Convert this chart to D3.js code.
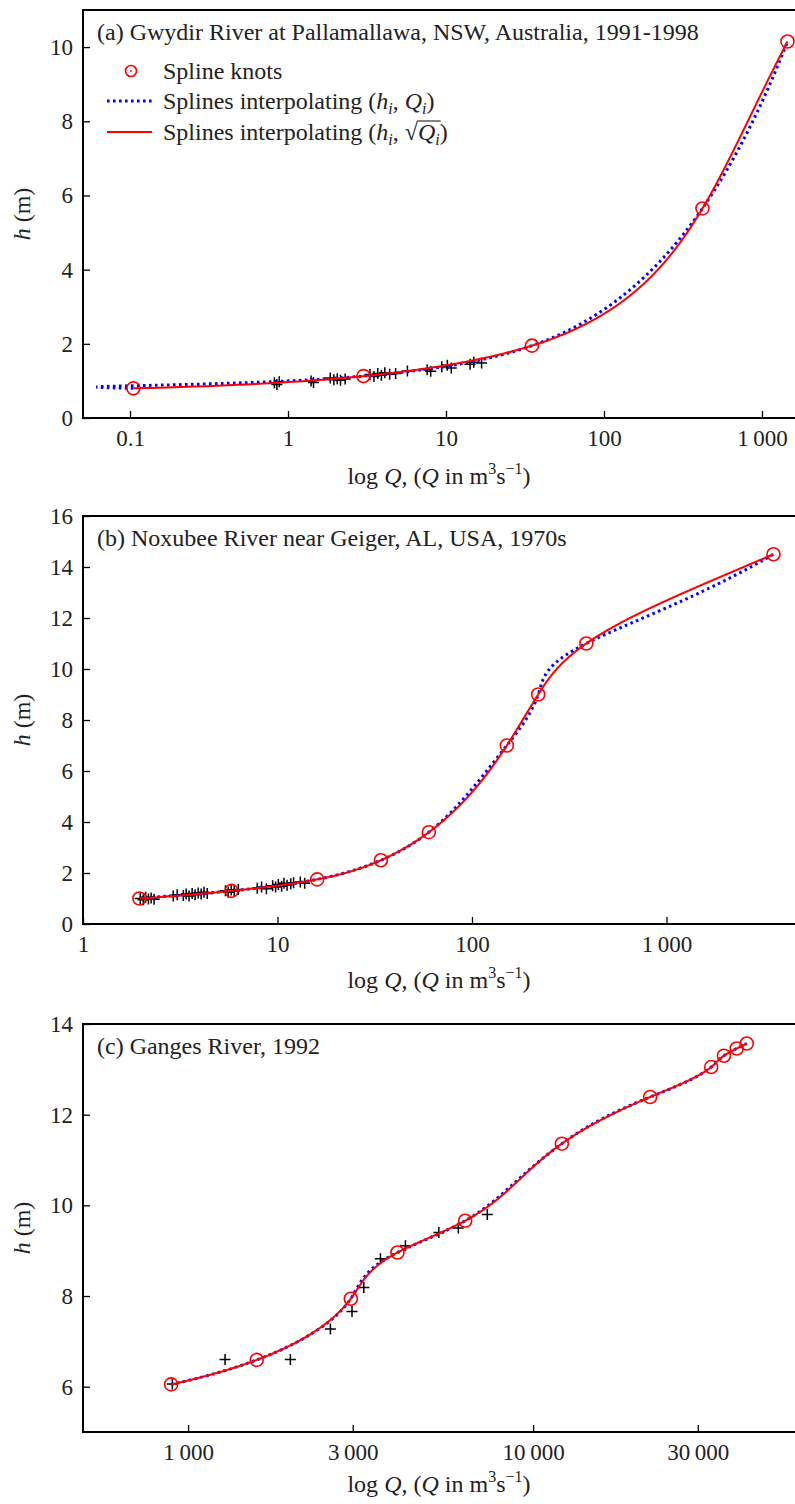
<!DOCTYPE html>
<html><head><meta charset="utf-8">
<script src="https://cdn.jsdelivr.net/npm/d3@7"></script>
<style>
body{margin:0;background:#fff}
svg{display:block}
text{font-family:"Liberation Serif","Times New Roman",serif;fill:#222}
</style>
</head><body>
<script>
// ---------- DATA ----------
// Panel (a) Gwydir River
const aKnotQ = [0.105, 3.0, 35, 420, 1450];
const aKnotH = [0.80, 1.13, 1.95, 5.65, 10.15];
const aObsQ = [0.82,0.85,0.88,1.40,1.45,1.85,1.95,2.05,2.15,2.3,3.3,3.5,3.7,3.9,4.1,4.4,4.8,5.7,7.6,8.0,9.4,10.2,10.8,14.2,15.0,16.8];
const aObsH = [0.95,0.90,0.98,1.00,0.96,1.08,1.03,1.06,1.02,1.05,1.17,1.12,1.20,1.15,1.22,1.18,1.20,1.27,1.30,1.26,1.38,1.42,1.35,1.45,1.50,1.48];
// Panel (b) Noxubee River
const bKnotQ = [1.95, 5.8, 16, 34, 60, 151, 219, 387, 3550];
const bKnotH = [1.0, 1.3, 1.75, 2.5, 3.6, 7.0, 9.0, 11.0, 14.5];
const bObsQ = [1.97,2.04,2.10,2.17,2.24,2.32,2.91,3.05,3.28,3.39,3.51,3.64,3.77,3.91,4.05,4.19,4.35,5.40,5.58,5.78,5.99,6.29,7.87,8.28,8.77,9.44,9.78,10.1,10.5,10.8,11.2,11.7,12.1,13.1,13.8];
const bObsH = [1.00,0.95,1.05,0.98,1.02,0.97,1.10,1.15,1.12,1.18,1.10,1.20,1.15,1.22,1.18,1.25,1.20,1.30,1.25,1.33,1.28,1.35,1.40,1.45,1.38,1.50,1.45,1.55,1.48,1.60,1.52,1.58,1.62,1.65,1.60];
// Panel (c) Ganges River
const cKnotQ = [893, 1581, 2962, 4044, 6355, 12110, 21830, 32800, 35720, 38900, 41600];
const cKnotH = [6.05, 6.59, 7.94, 8.96, 9.66, 11.36, 12.39, 13.05, 13.30, 13.46, 13.57];
const cObsQ = [900, 1280, 1979, 2585, 2986, 3231, 3610, 4265, 5330, 6070, 7365];
const cObsH = [6.06, 6.60, 6.60, 7.27, 7.66, 8.19, 8.82, 9.11, 9.40, 9.50, 9.80];

const titles = ["(a) Gwydir River at Pallamallawa, NSW, Australia, 1991-1998",
                "(b) Noxubee River near Geiger, AL, USA, 1970s",
                "(c) Ganges River, 1992"];
const aTicksX = [0.1, 1, 10, 100, 1000];
const aTickLabels = ["0.1", "1", "10", "100", "1\u2009000"];
const bTicksX = [1, 10, 100, 1000];
const bTickLabels = ["1", "10", "100", "1\u2009000"];
const cTicksX = [1000, 3000, 10000, 30000];
const cTickLabels = ["1\u2009000", "3\u2009000", "10\u2009000", "30\u2009000"];
const aTicksY = [0, 2, 4, 6, 8, 10];
const bTicksY = [0, 2, 4, 6, 8, 10, 12, 14, 16];
const cTicksY = [6, 8, 10, 12, 14];
const legendLabels = ["Spline knots", "Splines interpolating", "Splines interpolating"];

// ---------- SPLINE (not-a-knot cubic, as in the figure's method) ----------
function spline(xs, ys) {
  const n = xs.length, hh = [];
  for (let i = 0; i < n - 1; i++) hh.push(xs[i + 1] - xs[i]);
  const A = Array.from({length: n}, () => new Array(n).fill(0)), b = new Array(n).fill(0);
  A[0][0] = hh[1]; A[0][1] = -(hh[0] + hh[1]); A[0][2] = hh[0];
  for (let i = 1; i < n - 1; i++) {
    A[i][i - 1] = hh[i - 1]; A[i][i] = 2 * (hh[i - 1] + hh[i]); A[i][i + 1] = hh[i];
    b[i] = 6 * ((ys[i + 1] - ys[i]) / hh[i] - (ys[i] - ys[i - 1]) / hh[i - 1]);
  }
  A[n - 1][n - 3] = hh[n - 2]; A[n - 1][n - 2] = -(hh[n - 3] + hh[n - 2]); A[n - 1][n - 1] = hh[n - 3];
  for (let c = 0; c < n; c++) {
    let p = c;
    for (let r = c + 1; r < n; r++) if (Math.abs(A[r][c]) > Math.abs(A[p][c])) p = r;
    [A[c], A[p]] = [A[p], A[c]]; [b[c], b[p]] = [b[p], b[c]];
    for (let r = c + 1; r < n; r++) {
      const f = A[r][c] / A[c][c];
      for (let k = c; k < n; k++) A[r][k] -= f * A[c][k];
      b[r] -= f * b[c];
    }
  }
  const M = new Array(n).fill(0);
  for (let r = n - 1; r >= 0; r--) {
    let s = b[r];
    for (let k = r + 1; k < n; k++) s -= A[r][k] * M[k];
    M[r] = s / A[r][r];
  }
  return function (x) {
    let i = 0;
    while (i < n - 2 && x > xs[i + 1]) i++;
    const h = hh[i], a = xs[i + 1] - x, d = x - xs[i];
    return M[i] * a * a * a / (6 * h) + M[i + 1] * d * d * d / (6 * h)
      + (ys[i] / h - M[i] * h / 6) * a + (ys[i + 1] / h - M[i + 1] * h / 6) * d;
  };
}

// ---------- DRAW ----------
const W = 795, H = 1504, FS = 24, TFS = 23, SFS = 16, L = 83, R = 795;
const svg = d3.select("body").append("svg").attr("width", W).attr("height", H);

const panels = [
  {top: 10, bottom: 418, xd: [0.0504, 1618], yd: [0, 11], kq: aKnotQ, kh: aKnotH, oq: aObsQ, oh: aObsH,
   xt: aTicksX, xl: aTickLabels, yt: aTicksY, title: titles[0], legend: true, xlab: 66},
  {top: 516, bottom: 924, xd: [1, 4580], yd: [0, 16], kq: bKnotQ, kh: bKnotH, oq: bObsQ, oh: bObsH,
   xt: bTicksX, xl: bTickLabels, yt: bTicksY, title: titles[1], xlab: 64},
  {top: 1024, bottom: 1432, xd: [496, 57400], yd: [5, 14], kq: cKnotQ, kh: cKnotH, oq: cObsQ, oh: cObsH,
   xt: cTicksX, xl: cTickLabels, yt: cTicksY, title: titles[2], xlab: 60}
];

panels.forEach((p, pi) => {
  const x = d3.scaleLog().domain(p.xd).range([L, R]);
  const y = d3.scaleLinear().domain(p.yd).range([p.bottom, p.top]);
  const g = svg.append("g");
  const clipId = "clip" + pi;
  svg.append("clipPath").attr("id", clipId).append("rect")
    .attr("x", L).attr("y", p.top).attr("width", R - L).attr("height", p.bottom - p.top);

  // axes
  const ax = g.append("g").attr("transform", `translate(0,${p.bottom})`)
    .call(d3.axisBottom(x).tickValues(p.xt).tickFormat((d, i) => p.xl[i]).tickSizeInner(-7).tickSizeOuter(0).tickPadding(12));
  const ay = g.append("g").attr("transform", `translate(${L},0)`)
    .call(d3.axisLeft(y).tickValues(p.yt).tickSizeInner(-7).tickSizeOuter(0).tickPadding(10));
  [ax, ay].forEach(a => {
    a.select(".domain").remove();
    a.selectAll(".tick line").attr("stroke", "#000").attr("stroke-width", 1.3);
    a.selectAll(".tick text").attr("font-size", TFS).attr("font-family", "Liberation Serif").attr("fill", "#222");
  });
  // frame (top, left, bottom)
  g.append("path").attr("d", `M${R + 2},${p.top}H${L}V${p.bottom}H${R + 2}`)
    .attr("fill", "none").attr("stroke", "#000").attr("stroke-width", 2);

  // title
  g.append("text").attr("x", 97).attr("y", p.top + 30).attr("font-size", FS).text(p.title);

  // y label
  const yl = g.append("text").attr("transform", `translate(30,${(p.top + p.bottom) / 2}) rotate(-90)`)
    .attr("text-anchor", "middle").attr("font-size", FS);
  yl.append("tspan").attr("font-style", "italic").text("h");
  yl.append("tspan").text(" (m)");

  // x label
  const xl = g.append("text").attr("x", (L + R) / 2).attr("y", p.bottom + p.xlab).attr("text-anchor", "middle").attr("font-size", FS);
  xl.append("tspan").text("log ");
  xl.append("tspan").attr("font-style", "italic").text("Q");
  xl.append("tspan").text(", (");
  xl.append("tspan").attr("font-style", "italic").text("Q");
  xl.append("tspan").text(" in m");
  xl.append("tspan").attr("font-size", SFS).attr("dy", -10).text("3");
  xl.append("tspan").attr("dy", 10).text("s");
  xl.append("tspan").attr("font-size", SFS).attr("dy", -10).text("\u22121");
  xl.append("tspan").attr("dy", 10).text(")");

  const plot = g.append("g").attr("clip-path", `url(#${clipId})`);

  // observations (+)
  const obs = p.oq.map((q, i) => [q, p.oh[i]]);
  plot.selectAll("path.obs").data(obs).join("path").attr("class", "obs")
    .attr("d", d => { const cx = x(d[0]), cy = y(d[1]); return `M${cx - 5.5},${cy}H${cx + 5.5}M${cx},${cy - 5.5}V${cy + 5.5}`; })
    .attr("stroke", "#000").attr("stroke-width", 1.5).attr("fill", "none");

  // spline curves parameterised by h
  const sQ = spline(p.kh, p.kq);
  const sR = spline(p.kh, p.kq.map(Math.sqrt));
  const h0 = p.kh[0], h1 = p.kh[p.kh.length - 1], N = 800;
  const hs = d3.range(N + 1).map(i => h0 + (h1 - h0) * i / N);
  const blue = hs.map(h => [sQ(h), h]);
  const red = hs.map(h => { const r = sR(h); return [r * r, h]; });
  const line = d3.line().defined(d => d[0] > 0).x(d => x(d[0])).y(d => y(d[1]));
  plot.append("path").attr("d", line(blue)).attr("fill", "none").attr("stroke", "#0000ff")
    .attr("stroke-width", 3).attr("stroke-dasharray", "2.6 3.4");
  plot.append("path").attr("d", line(red)).attr("fill", "none").attr("stroke", "#ff0000").attr("stroke-width", 2);

  // knots
  const knots = p.kq.map((q, i) => [q, p.kh[i]]);
  plot.selectAll("circle.knot").data(knots).join("circle").attr("class", "knot")
    .attr("cx", d => x(d[0])).attr("cy", d => y(d[1])).attr("r", 6.5)
    .attr("fill", "none").attr("stroke", "#ff0000").attr("stroke-width", 1.6);

  // legend
  if (p.legend) {
    const lg = g.append("g");
    const rows = [71, 101, 132];
    lg.append("circle").attr("cx", 131).attr("cy", rows[0]).attr("r", 5.5).attr("fill", "none").attr("stroke", "#ff0000").attr("stroke-width", 1.6);
    lg.append("circle").attr("cx", 131).attr("cy", rows[0]).attr("r", 0.9).attr("fill", "#ff0000");
    lg.append("line").attr("x1", 107).attr("x2", 152).attr("y1", rows[1]).attr("y2", rows[1])
      .attr("stroke", "#0000ff").attr("stroke-width", 3).attr("stroke-dasharray", "2.6 3.4");
    lg.append("line").attr("x1", 107).attr("x2", 152).attr("y1", rows[2]).attr("y2", rows[2])
      .attr("stroke", "#ff0000").attr("stroke-width", 2);
    lg.append("text").attr("x", 163).attr("y", rows[0] + 8).attr("font-size", FS).text(legendLabels[0]);
    const t2 = lg.append("text").attr("x", 163).attr("y", rows[1] + 8).attr("font-size", FS);
    t2.append("tspan").text(legendLabels[1] + " (");
    t2.append("tspan").attr("font-style", "italic").text("h");
    t2.append("tspan").attr("font-style", "italic").attr("font-size", SFS).attr("dy", 5).text("i");
    t2.append("tspan").attr("dy", -5).text(", ");
    t2.append("tspan").attr("font-style", "italic").text("Q");
    t2.append("tspan").attr("font-style", "italic").attr("font-size", SFS).attr("dy", 5).text("i");
    t2.append("tspan").attr("dy", -5).text(")");
    const t3 = lg.append("text").attr("x", 163).attr("y", rows[2] + 8).attr("font-size", FS);
    t3.append("tspan").text(legendLabels[2] + " (");
    t3.append("tspan").attr("font-style", "italic").text("h");
    t3.append("tspan").attr("font-style", "italic").attr("font-size", SFS).attr("dy", 5).text("i");
    t3.append("tspan").attr("dy", -5).text(", \u221A");
    t3.append("tspan").attr("font-style", "italic").text("Q");
    t3.append("tspan").attr("font-style", "italic").attr("font-size", SFS).attr("dy", 5).text("i");
    t3.append("tspan").attr("dy", -5).text(")");
    const node = t3.node();
    const full = node.textContent;
    const iS = full.indexOf("\u221A");
    try {
      const sEnd = node.getEndPositionOfChar(iS).x;
      const qEnd = node.getEndPositionOfChar(full.length - 2).x;
      const sb = node.getExtentOfChar(iS);
      lg.append("line").attr("x1", sEnd - 0.5).attr("x2", qEnd + 1)
        .attr("y1", sb.y + 2).attr("y2", sb.y + 2).attr("stroke", "#222").attr("stroke-width", 1.1);
    } catch (e) {}
  }
});
</script>
</body></html>
